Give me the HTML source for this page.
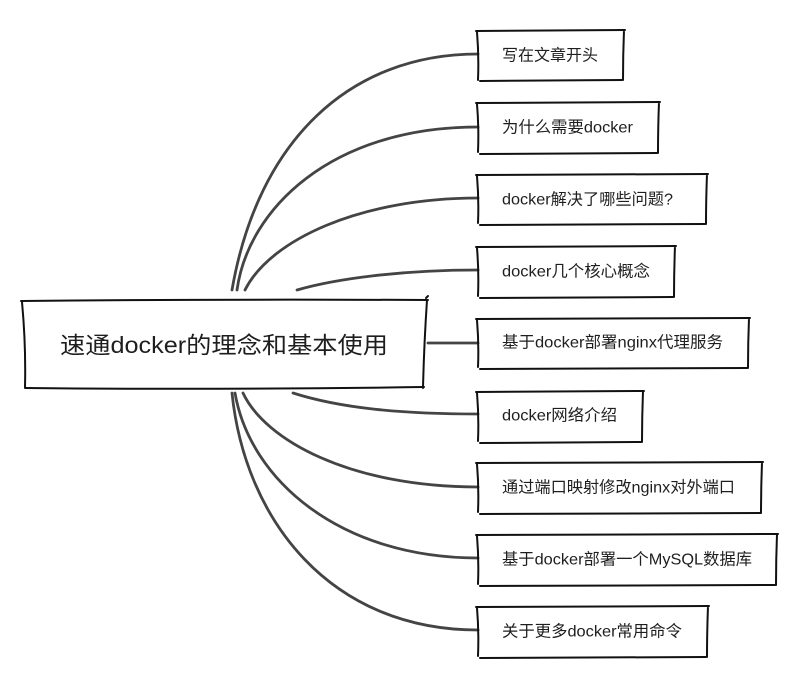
<!DOCTYPE html>
<html>
<head>
<meta charset="utf-8">
<style>
html,body{margin:0;padding:0;background:#fff;}
svg{display:block;}
text{font-family:"Liberation Sans","Noto Sans CJK SC",sans-serif;fill:#1e1e1e;}
</style>
</head>
<body>
<svg width="803" height="684" viewBox="0 0 803 684" xmlns="http://www.w3.org/2000/svg">
<g fill="none" stroke="#444" stroke-width="2.8" stroke-linecap="round">
  <path d="M232,290 C258,140 350,54 478,54"/>
  <path d="M237,290 C248,210 330,127 478,127"/>
  <path d="M245,290 C270,240 360,198 478,198"/>
  <path d="M297,290 C335,279 400,270 478,270"/>
  <path d="M428,343 L478,343"/>
  <path d="M293,393 C340,408 400,414 478,414"/>
  <path d="M243,393 C265,440 350,487 478,487"/>
  <path d="M235,393 C250,480 340,558 478,558"/>
  <path d="M232,393 C245,520 330,630 478,630"/>
</g>

<g fill="none" stroke="#111" stroke-width="2" stroke-linecap="round" stroke-linejoin="round">
  <!-- central box -->
  <path d="M21,301 Q220,299 428,300"/>
  <path d="M427,300 Q424,345 423,388"/>
  <path d="M424,387 Q220,390 25,388"/>
  <path d="M22,302 Q26,345 25,387"/>
  <path d="M426,298 L428,296"/>

  <!-- small boxes: l,t,r,b -->
  <path d="M476,31 L625,30 M624,30 Q623,55 623,80 M622,80 L480,81 M477,32 Q479,56 478,80"/>
  <path d="M476,103 L660,102 M659,102 Q658,128 658,153 M657,153 L480,154 M477,104 Q479,128 478,152"/>
  <path d="M476,175 L708,174 M707,174 Q706,200 706,224 M705,224 L480,225 M477,176 Q479,200 478,223"/>
  <path d="M476,247 L676,246 M675,246 Q674,272 674,297 M673,297 L480,298 M477,248 Q479,272 478,296"/>
  <path d="M476,319 L750,318 M749,318 Q748,343 748,368 M747,368 L480,369 M477,320 Q479,344 478,367"/>
  <path d="M476,392 L644,391 M643,391 Q642,417 642,442 M641,442 L480,443 M477,393 Q479,417 478,441"/>
  <path d="M476,463 L763,462 M762,462 Q761,488 761,513 M760,513 L480,514 M477,464 Q479,488 478,512"/>
  <path d="M476,535 L778,534 M777,534 Q776,560 776,585 M775,585 L480,586 M477,536 Q479,560 478,584"/>
  <path d="M476,607 L709,606 M708,606 Q707,632 707,657 M706,657 L480,658 M477,608 Q479,632 478,656"/>
</g>

<text x="60" y="345" font-size="23" dominant-baseline="central" textLength="328" lengthAdjust="spacingAndGlyphs">速通docker的理念和基本使用</text>

<g font-size="16">
  <text x="502" y="56" dominant-baseline="central" textLength="96" lengthAdjust="spacingAndGlyphs">写在文章开头</text>
  <text x="502" y="128" dominant-baseline="central" textLength="131" lengthAdjust="spacingAndGlyphs">为什么需要docker</text>
  <text x="502" y="200" dominant-baseline="central" textLength="171" lengthAdjust="spacingAndGlyphs">docker解决了哪些问题?</text>
  <text x="502" y="272" dominant-baseline="central" textLength="148" lengthAdjust="spacingAndGlyphs">docker几个核心概念</text>
  <text x="502" y="343" dominant-baseline="central" textLength="221" lengthAdjust="spacingAndGlyphs">基于docker部署nginx代理服务</text>
  <text x="502" y="416" dominant-baseline="central" textLength="115" lengthAdjust="spacingAndGlyphs">docker网络介绍</text>
  <text x="502" y="488" dominant-baseline="central" textLength="233" lengthAdjust="spacingAndGlyphs">通过端口映射修改nginx对外端口</text>
  <text x="502" y="560" dominant-baseline="central" textLength="250" lengthAdjust="spacingAndGlyphs">基于docker部署一个MySQL数据库</text>
  <text x="502" y="632" dominant-baseline="central" textLength="180" lengthAdjust="spacingAndGlyphs">关于更多docker常用命令</text>
</g>
</svg>
</body>
</html>
